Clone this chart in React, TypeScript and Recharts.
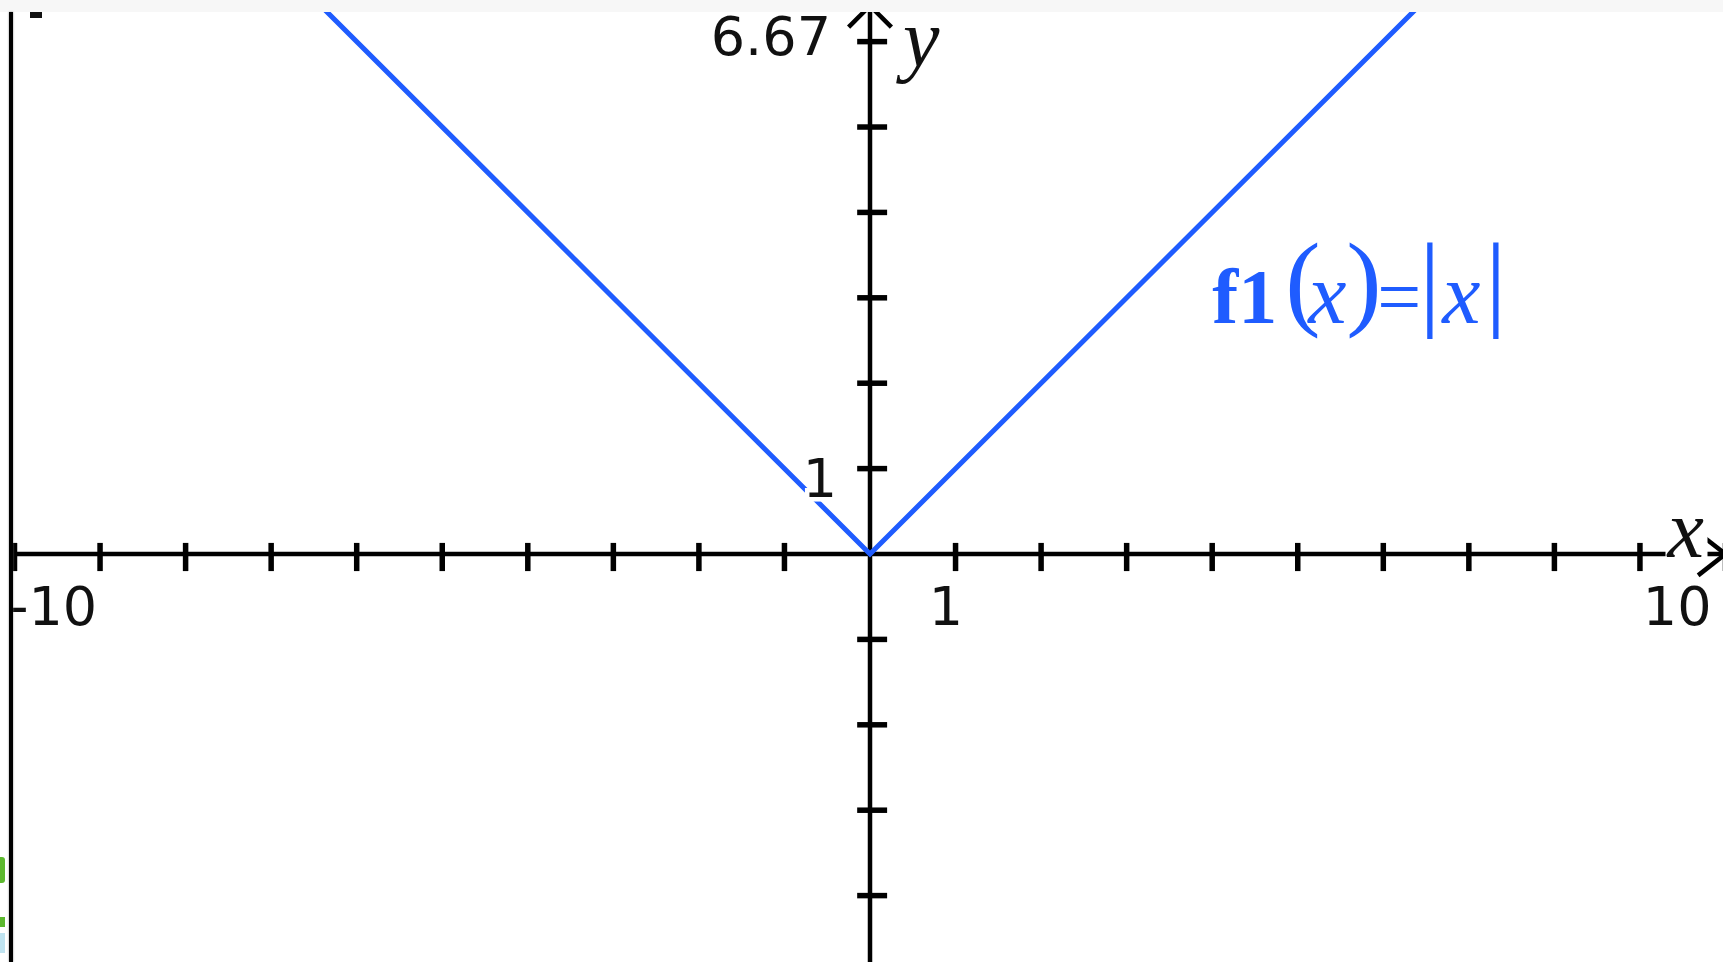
import React from 'react';
import { LineChart, Line, XAxis, YAxis, ReferenceLine, ReferenceDot } from 'recharts';

// ---- data ----
const f1X = [-10, 0, 10];
const f1Y = [10, 0, 10];
const xDomain = [-10, 10];
const yDomain = [-5, 6.67];
const xTickValues = [-10, -9, -8, -7, -6, -5, -4, -3, -2, -1, 1, 2, 3, 4, 5, 6, 7, 8, 9, 10];
const yTickValues = [-5, -4, -3, -2, -1, 1, 2, 3, 4, 5, 6];
const xTickLabelValues = [-10, 1, 10];
const xTickLabelTexts = ['-10', '1', '10'];
const yTickLabelValues = [1, 6.67];
const yTickLabelTexts = ['1', '6.67'];
const f1LabelParts = ['f1', '(', 'x', ')', '=', '|', 'x', '|'];
const axisNames = ['x', 'y'];

const BLUE = '#1f5cff';
const INK = '#111';

const NumLabel = (props: any) => {
  const { viewBox, txt, lx, ly, anc, halo } = props;
  if (!viewBox) return null;
  return (
    <text
      x={viewBox.x + lx}
      y={viewBox.y + ly}
      textAnchor={anc}
      fontFamily="'DejaVu Sans', Verdana, sans-serif"
      fontSize={54}
      fill={INK}
      stroke={halo ? '#fff' : 'none'}
      strokeWidth={halo ? 9 : 0}
      paintOrder="stroke"
    >
      {txt}
    </text>
  );
};

const AxisName = (props: any) => {
  const { viewBox, txt, lx, ly, bg } = props;
  if (!viewBox) return null;
  const x = viewBox.x + lx;
  const y = viewBox.y + ly;
  return (
    <g>
      {bg ? <rect x={bg[0] + viewBox.x} y={bg[1] + viewBox.y} width={bg[2]} height={bg[3]} fill="#fff" /> : null}
      <text x={x} y={y} fontFamily="'Liberation Serif', 'Times New Roman', serif" fontStyle="italic" fontSize={82} fill={INK}>
        {txt}
      </text>
    </g>
  );
};

const FuncLabel = (props: any) => {
  const { viewBox } = props;
  if (!viewBox) return null;
  const bx = viewBox.x;
  const by = viewBox.y;
  const p = f1LabelParts;
  return (
    <text fill={BLUE} fontFamily="'Liberation Serif', 'Times New Roman', serif">
      <tspan x={bx} y={by} fontWeight="bold" fontSize={78}>{p[0]}</tspan>
      <tspan x={bx + 73} y={by - 7} fontSize={106} fontWeight={300}>{p[1]}</tspan>
      <tspan x={bx + 96} y={by} fontStyle="italic" fontSize={86}>{p[2]}</tspan>
      <tspan x={bx + 134} y={by - 7} fontSize={106} fontWeight={300}>{p[3]}</tspan>
      <tspan x={bx + 165} y={by} fontSize={78}>{p[4]}</tspan>
      <tspan x={bx + 207} y={by - 7} fontSize={106}>{p[5]}</tspan>
      <tspan x={bx + 230} y={by} fontStyle="italic" fontSize={86}>{p[6]}</tspan>
      <tspan x={bx + 273} y={by - 7} fontSize={106}>{p[7]}</tspan>
    </text>
  );
};

const xLabelOffsets = [
  { lx: -5.5, ly: 71, anc: 'start' },
  { lx: -9.5, ly: 71, anc: 'middle' },
  { lx: -14, ly: 71, anc: 'end' },
];
const yLabelOffsets = [
  { lx: -33, ly: 28.4, anc: 'end', halo: true },
  { lx: -39, ly: 71, anc: 'end', halo: false },
];

export default function App() {
  const data = f1X.map((x, i) => ({ x, y: f1Y[i] }));
  const yTop = 6.42;
  return (
    <div style={{ position: 'absolute', left: 0, top: 0, width: 1723, height: 962, overflow: 'hidden', background: '#fff' }}>
      <div style={{ position: 'absolute', left: 0, top: -30 }}>
        <LineChart width={1740} height={1030} data={data} margin={{ top: 14.4, right: 14.5, bottom: 19, left: 14.5 }}>
          <XAxis type="number" dataKey="x" domain={xDomain} hide allowDataOverflow />
          <YAxis type="number" domain={yDomain} hide allowDataOverflow />
          {/* x axis */}
          <ReferenceLine y={0} stroke="#000" strokeWidth={4.5} ifOverflow="visible" zIndex={100} />
          <ReferenceLine segment={[{ x: 10, y: 0 }, { x: 9.68, y: 0.25 }]} stroke="#000" strokeWidth={4.5} ifOverflow="visible" zIndex={100} />
          <ReferenceLine segment={[{ x: 10, y: 0 }, { x: 9.68, y: -0.25 }]} stroke="#000" strokeWidth={4.5} ifOverflow="visible" zIndex={100} />
          {/* y axis */}
          <ReferenceLine segment={[{ x: 0, y: -5 }, { x: 0, y: yTop }]} stroke="#000" strokeWidth={4.5} ifOverflow="visible" zIndex={100} />
          <ReferenceLine segment={[{ x: 0, y: yTop }, { x: -0.25, y: yTop - 0.25 }]} stroke="#000" strokeWidth={4.5} ifOverflow="visible" zIndex={100} />
          <ReferenceLine segment={[{ x: 0, y: yTop }, { x: 0.25, y: yTop - 0.25 }]} stroke="#000" strokeWidth={4.5} ifOverflow="visible" zIndex={100} />
          {xTickValues.map((v) => (
            <ReferenceLine key={'xt' + v} segment={[{ x: v, y: 0.13 }, { x: v, y: -0.2 }]} stroke="#000" strokeWidth={5.5} ifOverflow="visible" zIndex={100} />
          ))}
          {yTickValues.map((v) => (
            <ReferenceLine key={'yt' + v} segment={[{ x: -0.15, y: v }, { x: 0.2, y: v }]} stroke="#000" strokeWidth={5.5} ifOverflow="visible" zIndex={100} />
          ))}
          <Line
            type="linear"
            dataKey="y"
            stroke={BLUE}
            strokeWidth={5}
            dot={false}
            activeDot={false}
            isAnimationActive={false}
            zIndex={400}
          />
          {xTickLabelValues.map((v, i) => (
            <ReferenceDot
              key={'xl' + v}
              x={v}
              y={0}
              r={0}
              fill="none"
              stroke="none"
              ifOverflow="visible"
              label={<NumLabel txt={xTickLabelTexts[i]} {...xLabelOffsets[i]} />}
            />
          ))}
          {yTickLabelValues.map((v, i) => (
            <ReferenceDot
              key={'yl' + v}
              x={0}
              y={v}
              r={0}
              fill="none"
              stroke="none"
              ifOverflow="visible"
              label={<NumLabel txt={yTickLabelTexts[i]} {...yLabelOffsets[i]} />}
            />
          ))}
          <ReferenceDot
            x={10}
            y={0}
            r={0}
            fill="none"
            stroke="none"
            ifOverflow="visible"
            label={<AxisName txt={axisNames[0]} lx={-58} ly={3} bg={[-60, -49, 42, 56]} />}
          />
          <ReferenceDot
            x={0}
            y={6.67}
            r={0}
            fill="none"
            stroke="none"
            ifOverflow="visible"
            label={<AxisName txt={axisNames[1]} lx={33} ly={82} />}
          />
          <ReferenceDot x={4} y={2.7} r={0} fill="none" stroke="none" ifOverflow="visible" label={<FuncLabel />} />
        </LineChart>
      </div>
      {/* screen frame artifacts */}
      <div style={{ position: 'absolute', left: 0, top: 0, width: 1723, height: 12, background: '#f7f7f7' }} />
      <div style={{ position: 'absolute', left: 9, top: 12, width: 4, height: 950, background: '#000', boxShadow: '0 0 2px #777' }} />
      <div style={{ position: 'absolute', left: 30, top: 12, width: 12, height: 6, background: '#111' }} />
      <div style={{ position: 'absolute', left: 0, top: 857, width: 5, height: 26, background: '#5cb82e', borderRadius: '0 3px 3px 0' }} />
      <div style={{ position: 'absolute', left: 0, top: 917, width: 5, height: 10, background: '#5cb82e' }} />
      <div style={{ position: 'absolute', left: 0, top: 933, width: 5, height: 20, background: '#bfe3f0' }} />
    </div>
  );
}
